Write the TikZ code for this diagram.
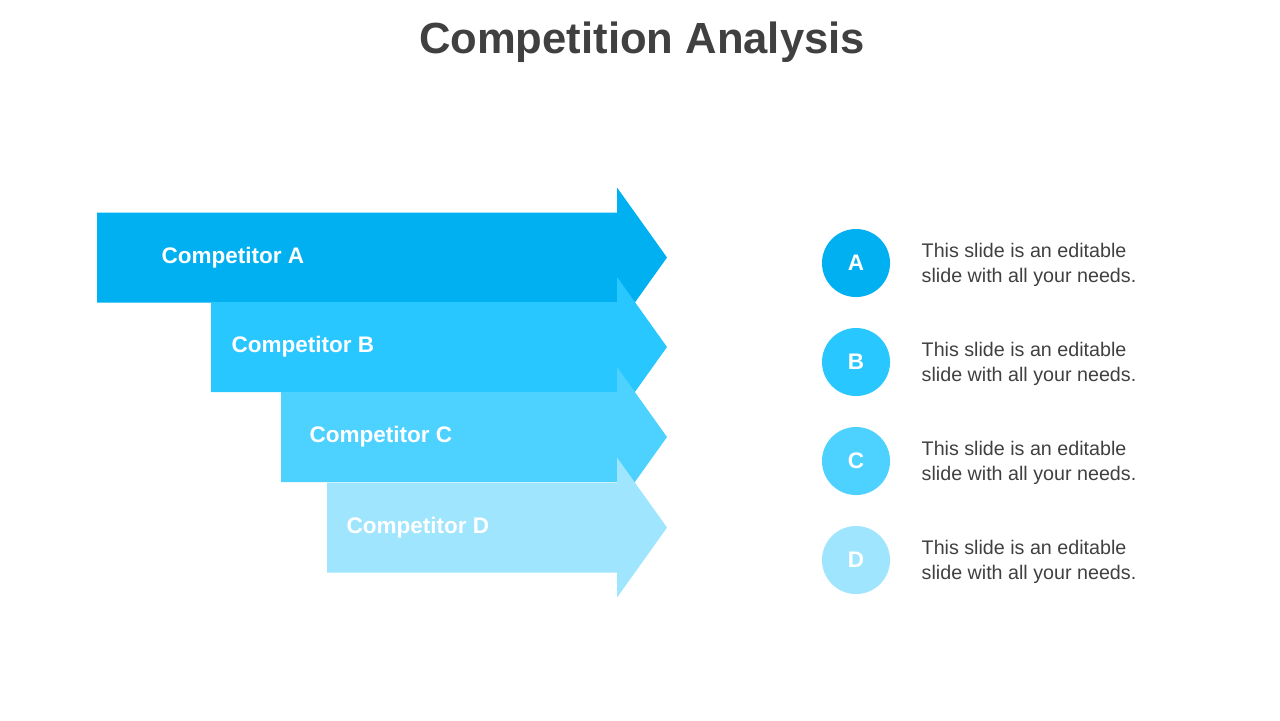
\documentclass[tikz,border=0pt]{standalone}
\usepackage{fontspec}
\setmainfont{Liberation Sans}
\usetikzlibrary{positioning}
\definecolor{compA}{HTML}{00B0F0}
\definecolor{compB}{HTML}{29C7FF}
\definecolor{compC}{HTML}{4DD1FF}
\definecolor{compD}{HTML}{9FE5FD}
\definecolor{txtgray}{HTML}{404040}
\tikzset{
	arrowlabel/.style={anchor=west, text=white, font=\fontsize{6.4pt}{7pt}\selectfont\bfseries, inner sep=0pt},
	letterdot/.style={circle, minimum size=0.68cm, inner sep=0pt, text=white, font=\fontsize{6.4pt}{7pt}\selectfont\bfseries},
	notetext/.style={anchor=west, align=left, text=txtgray, font=\fontsize{5.6pt}{7.2pt}\selectfont, inner sep=0pt}
}
\begin{document}
\begin{tikzpicture}[x=0.01cm, y=-0.01cm]
	
	% ------------------------------------------------
	% Canvas
	\useasboundingbox (0,0) rectangle (1280,720);
	
	\node[text=txtgray, font=\fontsize{12.4pt}{14pt}\selectfont\bfseries] (Title) at (642,42) {Competition Analysis};
	
	% ----------------
	% Arrows (left edge / centre y / colour / letter)
	\foreach \xl/\yc/\col/\lab/\lx in {97/257.5/compA/A/161, 211/347/compB/B/231, 281/437/compC/C/309, 327/527.5/compD/D/346}{
		\fill[\col] (\xl,\yc-45) -- (617,\yc-45) -- (617,\yc-70) -- (667,\yc) -- (617,\yc+70) -- (617,\yc+45) -- (\xl,\yc+45) -- cycle;
		\node[arrowlabel] (Label\lab) at (\lx,\yc) {Competitor \lab};
	}
	
	% ----------------
	% Legend
	\foreach \yc/\col/\lab in {263/compA/A, 362/compB/B, 461/compC/C, 560/compD/D}{
		\node[letterdot, fill=\col] (Dot\lab) at (856,\yc) {\lab};
		\node[notetext] (Note\lab) at (921,\yc+2) {This slide is an editable\\slide with all your needs.};
	}
	
\end{tikzpicture}
\end{document}
